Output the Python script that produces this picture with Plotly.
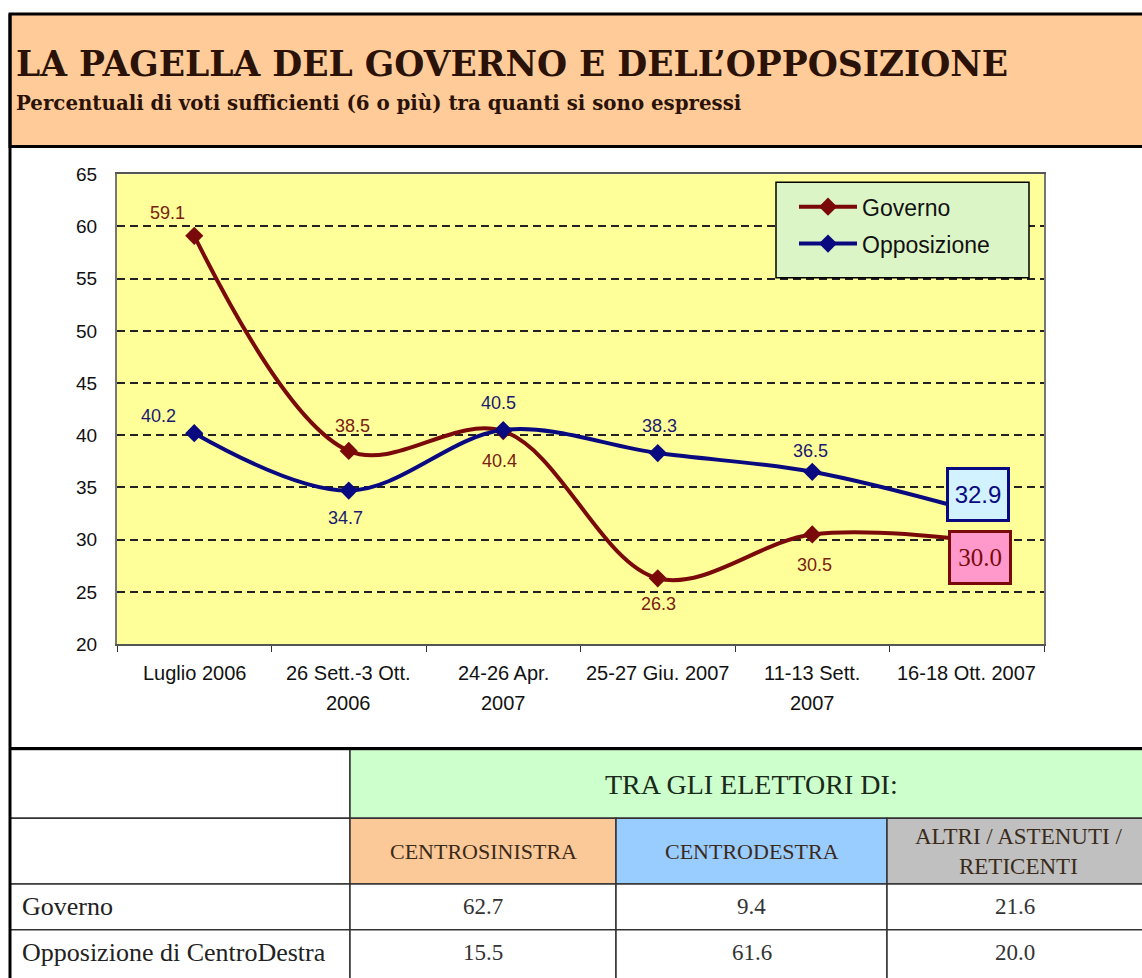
import plotly.graph_objects as go

W, H = 1142, 978

# ---------------- data ----------------
categories = ["Luglio 2006", "26 Sett.-3 Ott. 2006", "24-26 Apr. 2007",
              "25-27 Giu. 2007", "11-13 Sett. 2007", "16-18 Ott. 2007"]
tick_line1 = ["Luglio 2006", "26 Sett.-3 Ott.", "24-26 Apr.",
              "25-27 Giu. 2007", "11-13 Sett.", "16-18 Ott. 2007"]
tick_line2 = ["", "2006", "2007", "", "2007", ""]
governo = [59.1, 38.5, 40.4, 26.3, 30.5, 30.0]
opposizione = [40.2, 34.7, 40.5, 38.3, 36.5, 32.9]
y_ticks = [20, 25, 30, 35, 40, 45, 50, 55, 60, 65]

title = "LA PAGELLA DEL GOVERNO E DELL\u2019OPPOSIZIONE"
subtitle = "Percentuali di voti sufficienti (6 o più) tra quanti si sono espressi"

table_group = "TRA GLI ELETTORI DI:"
table_cols = ["CENTROSINISTRA", "CENTRODESTRA", "ALTRI / ASTENUTI /<br>RETICENTI"]
table_rows = ["Governo", "Opposizione di CentroDestra"]
table_values = [[62.7, 9.4, 21.6],
                [15.5, 61.6, 20.0]]

# ---------------- style ----------------
C_GOV = "#7a0a0a"
C_OPP = "#0a0a80"
C_GOV_TXT = "#7a2010"
C_OPP_TXT = "#1a1a70"
HEADER_BG = "#ffcc99"
col_fills = ["#fbc898", "#99ccff", "#c0c0c0"]
GREEN = "#ccffcc"
SANS = "Liberation Sans, Arial"
SERIF = "Liberation Serif, Times New Roman"
WIDE_SERIF = "DejaVu Serif, Georgia, serif"
LEFT = 10

# label offsets (pixels) for the point labels, last point gets a boxed label
gov_label_shift = [(-27, 23), (4, 25), (-4, -30), (1, -26), (2, -31)]
opp_label_shift = [(-36, 17), (-3, -27), (-5, 27), (2, 27), (-2, 21)]

# vertical page-placement compensation (screen y = TOP_OFF + V_SCALE * figure y)
TOP_OFF, V_SCALE = 8.0, 0.983


def px(x):
    return x / W


def py(y):
    return 1 - ((y - TOP_OFF) / V_SCALE) / H


fig = go.Figure()
fig.add_trace(go.Scatter(
    x=categories, y=governo, name="Governo", mode="lines+markers", legendgroup="g",
    line=dict(color=C_GOV, width=4, shape="spline", smoothing=1.0),
    marker=dict(symbol="diamond", size=14, color=C_GOV),
    cliponaxis=False,
))
fig.add_trace(go.Scatter(
    x=categories, y=opposizione, name="Opposizione", mode="lines+markers", legendgroup="o",
    line=dict(color=C_OPP, width=4, shape="spline", smoothing=1.0),
    marker=dict(symbol="diamond", size=14, color=C_OPP),
    cliponaxis=False,
))

annotations = []
# point labels
for vals, shifts, col in ((governo, gov_label_shift, C_GOV_TXT), (opposizione, opp_label_shift, C_OPP_TXT)):
    for c, v, (dx, dy) in zip(categories[:-1], vals[:-1], shifts):
        annotations.append(dict(x=c, y=v, xref="x", yref="y", text=f"{v:.1f}", showarrow=False,
                                xanchor="center", yanchor="middle", xshift=dx, yshift=dy,
                                font=dict(family=SANS, size=18, color=col)))
# boxed last values
annotations.append(dict(
    x=categories[-1], y=opposizione[-1], xref="x", yref="y",
    text=f"{opposizione[-1]:.1f}", showarrow=False, xshift=11, yshift=15,
    width=52, height=43, borderpad=3,
    font=dict(family=SANS, size=24, color=C_OPP),
    bgcolor="#d2f2ff", bordercolor=C_OPP, borderwidth=3,
))
annotations.append(dict(
    x=categories[-1], y=governo[-1], xref="x", yref="y",
    text=f"{governo[-1]:.1f}", showarrow=False, xshift=13, yshift=-18,
    width=52, height=43, borderpad=3,
    font=dict(family=SERIF, size=25, color=C_GOV),
    bgcolor="#ff99cc", bordercolor=C_GOV, borderwidth=3,
))

# x tick labels (two lines with wide spacing)
for c, l1, l2 in zip(categories, tick_line1, tick_line2):
    annotations.append(dict(x=c, xref="x", y=py(674), yref="paper", text=l1,
                            showarrow=False, xanchor="center", yanchor="middle",
                            font=dict(family=SANS, size=20, color="#111")))
    if l2:
        annotations.append(dict(x=c, xref="x", y=py(704), yref="paper", text=l2,
                                showarrow=False, xanchor="center", yanchor="middle",
                                font=dict(family=SANS, size=20, color="#111")))

# header
annotations.append(dict(x=px(14), y=py(62), xref="paper", yref="paper", text=f"<b>{title}</b>",
                        showarrow=False, xanchor="left", yanchor="middle",
                        font=dict(family=WIDE_SERIF, size=34.5, color="#2a1208")))
annotations.append(dict(x=px(14), y=py(101), xref="paper", yref="paper", text=f"<b>{subtitle}</b>",
                        showarrow=False, xanchor="left", yanchor="middle",
                        font=dict(family=WIDE_SERIF, size=19.8, color="#2a1208")))

shapes = []
# header background and frame
shapes.append(dict(type="rect", xref="paper", yref="paper", x0=px(LEFT), x1=px(1150), y0=py(145), y1=py(12),
                   fillcolor=HEADER_BG, line=dict(color="black", width=3), layer="below"))
shapes.append(dict(type="line", xref="paper", yref="paper", x0=px(LEFT), x1=px(1150), y0=py(750), y1=py(750),
                   line=dict(color="black", width=3)))

# legend frame (legend itself is transparent and sits on top)
shapes.append(dict(type="rect", xref="paper", yref="paper", x0=px(776), x1=px(1029), y0=py(277), y1=py(181),
                   fillcolor="#dcf5c6", line=dict(color="black", width=1.5), layer="above"))

# table
col_edges = [LEFT, 350, 616, 887, 1150]
row_edges = [751, 820, 886, 932, 990]
CELL_LINE = dict(color="#333", width=1.5)
# row 1: group header
shapes.append(dict(type="rect", xref="paper", yref="paper", x0=px(col_edges[0]), x1=px(col_edges[1]),
                   y0=py(row_edges[1]), y1=py(row_edges[0]), fillcolor="white", line=CELL_LINE, layer="below"))
shapes.append(dict(type="rect", xref="paper", yref="paper", x0=px(col_edges[1]), x1=px(col_edges[-1]),
                   y0=py(row_edges[1]), y1=py(row_edges[0]), fillcolor=GREEN, line=CELL_LINE, layer="below"))
annotations.append(dict(x=px(752), y=py((row_edges[0] + row_edges[1]) / 2 + 1),
                        xref="paper", yref="paper", text=table_group, showarrow=False,
                        xanchor="center", yanchor="middle",
                        font=dict(family=SERIF, size=28, color="#1a2a1a")))
# row 2: column headers
shapes.append(dict(type="rect", xref="paper", yref="paper", x0=px(col_edges[0]), x1=px(col_edges[1]),
                   y0=py(row_edges[2]), y1=py(row_edges[1]), fillcolor="white", line=CELL_LINE, layer="below"))
for j, (name, fc) in enumerate(zip(table_cols, col_fills)):
    x0, x1 = col_edges[j + 1], col_edges[j + 2]
    shapes.append(dict(type="rect", xref="paper", yref="paper", x0=px(x0), x1=px(x1),
                       y0=py(row_edges[2]), y1=py(row_edges[1]), fillcolor=fc, line=CELL_LINE, layer="below"))
    xc = (x0 + x1) / 2
    annotations.append(dict(x=px(xc), y=py((row_edges[1] + row_edges[2]) / 2), xref="paper", yref="paper",
                            text=name, showarrow=False, xanchor="center", yanchor="middle",
                            font=dict(family=SERIF, size=22 if j < 2 else 23, color="#3a2a1a")))
# data rows
for i, (rname, vals) in enumerate(zip(table_rows, table_values)):
    y0, y1 = row_edges[i + 2], row_edges[i + 3]
    yc = (y0 + min(y1, 978)) / 2
    for j in range(4):
        shapes.append(dict(type="rect", xref="paper", yref="paper", x0=px(col_edges[j]), x1=px(col_edges[j + 1]),
                           y0=py(y1), y1=py(y0), fillcolor="white", line=CELL_LINE, layer="below"))
    annotations.append(dict(x=px(col_edges[0] + 10), y=py(yc), xref="paper", yref="paper",
                            text=rname, showarrow=False, xanchor="left", yanchor="middle",
                            font=dict(family=SERIF, size=26, color="#222")))
    for j, v in enumerate(vals):
        x0, x1 = col_edges[j + 1], col_edges[j + 2]
        xc = (x0 + min(x1, W)) / 2
        annotations.append(dict(x=px(xc), y=py(yc), xref="paper", yref="paper",
                                text=f"{v:.1f}", showarrow=False, xanchor="center", yanchor="middle",
                                font=dict(family=SERIF, size=23, color="#333")))
# thick left frame line above table cells
shapes.append(dict(type="line", xref="paper", yref="paper", x0=px(LEFT), x1=px(LEFT), y0=py(1000), y1=py(12),
                   line=dict(color="black", width=3)))

fig.update_layout(
    width=W, height=H, autosize=False,
    margin=dict(l=0, r=0, t=0, b=0),
    paper_bgcolor="white",
    plot_bgcolor="#ffff99",
    showlegend=True,
    legend=dict(x=px(794), y=py(184), xanchor="left", yanchor="top",
                bgcolor="rgba(0,0,0,0)", borderwidth=0,
                font=dict(family=SANS, size=23, color="#111"),
                itemwidth=58, tracegroupgap=4),
    xaxis=dict(domain=[px(117), px(1044)], type="category", range=[-0.5, 5.5],
               showticklabels=False, ticks="outside", tickson="boundaries", ticklen=6,
               tickcolor="#333", showline=True, linecolor="#555", linewidth=2, mirror=True,
               showgrid=False, zeroline=False, fixedrange=True),
    yaxis=dict(domain=[py(645), py(173)], range=[20, 65], tickvals=y_ticks,
               showgrid=True, gridcolor="#222", griddash="8px,5px", gridwidth=2,
               showline=True, linecolor="#777", linewidth=2, mirror=True,
               ticks="", ticklabelstandoff=14, zeroline=False,
               tickfont=dict(family=SANS, size=19, color="#111")),
    shapes=shapes,
    annotations=annotations,
)

post = (
    "document.documentElement.style.margin='0';document.body.style.margin='0';"
    "var gd=document.getElementById('{plot_id}');"
    "gd.style.position='fixed';gd.style.left='0px';gd.style.top='0px';"
)
fig.write_html("out.html", config={"displayModeBar": False}, post_script=post)
